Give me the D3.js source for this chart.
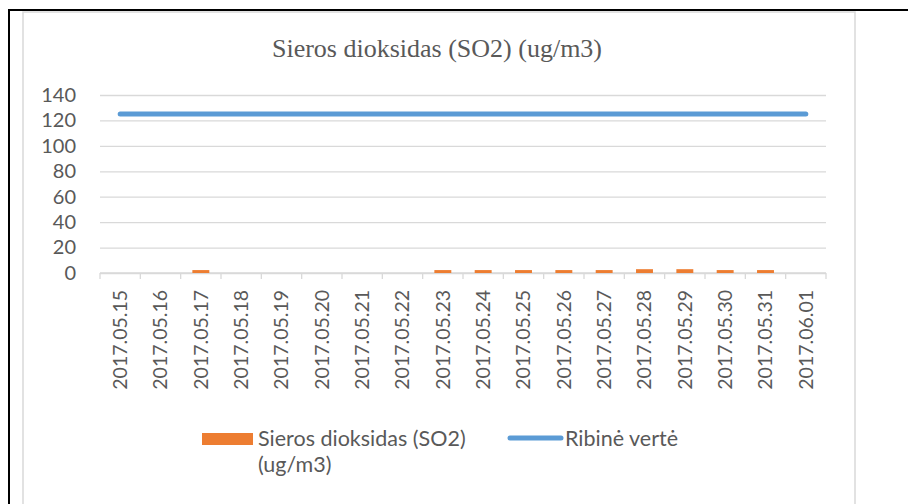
<!DOCTYPE html>
<html>
<head>
<meta charset="utf-8">
<script src="https://cdn.jsdelivr.net/npm/d3@7"></script>
<style>
    body { margin: 0; background: #fff; }
    #chart { width: 908px; height: 504px; }
</style>
</head>
<body>
<div id="chart"></div>
<script>
// data
let dates = ["2017.05.15", "2017.05.16", "2017.05.17", "2017.05.18", "2017.05.19", "2017.05.20",
    "2017.05.21", "2017.05.22", "2017.05.23", "2017.05.24", "2017.05.25", "2017.05.26",
    "2017.05.27", "2017.05.28", "2017.05.29", "2017.05.30", "2017.05.31", "2017.06.01"];
let so2 = [null, null, 2.3, null, null, null, null, null, 2.3, 2.3, 2.3, 2.3, 2.3, 3, 3, 2.3, 2.3, null];
let limit = [125, 125, 125, 125, 125, 125, 125, 125, 125, 125, 125, 125, 125, 125, 125, 125, 125, 125];
let yTicks = [0, 20, 40, 60, 80, 100, 120, 140];
let title = "Sieros dioksidas (SO2) (ug/m3)";
let seriesNames = ["Sieros dioksidas (SO2) (ug/m3)", "Ribinė vertė"];

let orange = "#ED7D31";
let blue = "#5B9BD5";
let textColor = "#595959";
let gridColor = "#d9d9d9";
let sans = "Lato, 'Open Sans', sans-serif";

let divWidth = 908, divHeight = 504;
let margin = {left: 100, right: 82, top: 95, bottom: 231};
let width = divWidth - margin.left - margin.right;
let height = divHeight - margin.top - margin.bottom;

let svg = d3.select("#chart").append("svg")
    .attr("width", divWidth)
    .attr("height", divHeight);

svg.append("rect")
    .attr("width", divWidth).attr("height", divHeight)
    .attr("fill", "#fff");

// outer page border (black, top + left)
svg.append("path")
    .attr("d", `M9,${divHeight} L9,10 L${divWidth},10`)
    .attr("fill", "none")
    .attr("stroke", "#000")
    .attr("stroke-width", 2);

// chart frame
svg.append("rect")
    .attr("x", 23).attr("y", 12)
    .attr("width", 832).attr("height", divHeight)
    .attr("fill", "none")
    .attr("stroke", gridColor)
    .attr("stroke-width", 1.5);

// title
svg.append("text")
    .attr("x", 437)
    .attr("y", 57)
    .attr("text-anchor", "middle")
    .attr("font-family", "'Liberation Serif', 'Times New Roman', serif")
    .attr("font-size", 26)
    .attr("fill", textColor)
    .text(title);

let g = svg.append("g").attr("transform", `translate(${margin.left},${margin.top})`);

let x = d3.scaleBand().domain(dates).range([0, width]);
let y = d3.scaleLinear().domain([0, 140]).range([height, 0]);

// y gridlines + labels
let yAxis = d3.axisLeft(y)
    .tickValues(yTicks)
    .tickSize(-width)
    .tickPadding(24);

let gy = g.append("g").attr("class", "axis axis--y").call(yAxis);
gy.select(".domain").remove();
gy.selectAll(".tick line")
    .attr("stroke", gridColor)
    .attr("stroke-width", 1.3);
gy.selectAll(".tick text")
    .attr("font-family", sans)
    .attr("font-size", 20)
    .attr("fill", textColor);

// x axis baseline and band boundary ticks
let xAxis = d3.axisBottom(x).tickSize(0).tickPadding(0);
let gx = g.append("g").attr("class", "axis axis--x")
    .attr("transform", `translate(0,${height})`)
    .call(xAxis);
gx.select(".domain")
    .attr("stroke", gridColor)
    .attr("stroke-width", 1.3)
    .attr("d", `M0,0H${width}`);
gx.selectAll(".tick text")
    .attr("font-family", sans)
    .attr("font-size", 19.5)
    .attr("fill", textColor)
    .attr("text-anchor", "end")
    .attr("transform", "translate(0,17) rotate(-90)")
    .attr("y", 0)
    .attr("dy", "0.35em");

let bounds = dates.map(d => x(d)).concat([x.range()[1]]);
gx.selectAll(".band-tick").data(bounds).enter()
    .append("line")
    .attr("class", "band-tick")
    .attr("x1", d => d).attr("x2", d => d)
    .attr("y1", 0).attr("y2", 6)
    .attr("stroke", gridColor)
    .attr("stroke-width", 1.3);

// bars
let barW = x.bandwidth() * 0.42;
g.selectAll(".bar")
    .data(dates.map((d, i) => ({date: d, v: so2[i]})).filter(d => d.v != null))
    .enter().append("rect")
    .attr("class", "bar")
    .attr("x", d => x(d.date) + (x.bandwidth() - barW) / 2)
    .attr("y", d => y(d.v))
    .attr("width", barW)
    .attr("height", d => y(0) - y(d.v))
    .attr("fill", orange);

// limit line
let line = d3.line()
    .x((d, i) => x(dates[i]) + x.bandwidth() / 2)
    .y(d => y(d));
g.append("path")
    .attr("d", line(limit))
    .attr("fill", "none")
    .attr("stroke", blue)
    .attr("stroke-width", 5)
    .attr("stroke-linecap", "round");

// legend
let legend = svg.append("g").attr("class", "legend");
legend.append("rect")
    .attr("x", 202).attr("y", 433)
    .attr("width", 51).attr("height", 12)
    .attr("fill", orange);

// wrap first name like excel does
let words = seriesNames[0].split(" ");
let lines = [words.slice(0, 3).join(" "), words.slice(3).join(" ")];
legend.selectAll(".legend-line").data(lines).enter()
    .append("text")
    .attr("class", "legend-line")
    .attr("x", 258)
    .attr("y", (d, i) => 446 + i * 26)
    .attr("font-family", sans)
    .attr("font-size", 21.5)
    .attr("fill", textColor)
    .text(d => d);

legend.append("line")
    .attr("x1", 510).attr("x2", 561)
    .attr("y1", 438).attr("y2", 438)
    .attr("stroke", blue)
    .attr("stroke-width", 5)
    .attr("stroke-linecap", "round");
legend.append("text")
    .attr("x", 565).attr("y", 446)
    .attr("font-family", sans)
    .attr("font-size", 21.5)
    .attr("fill", textColor)
    .text(seriesNames[1]);
</script>
</body>
</html>
